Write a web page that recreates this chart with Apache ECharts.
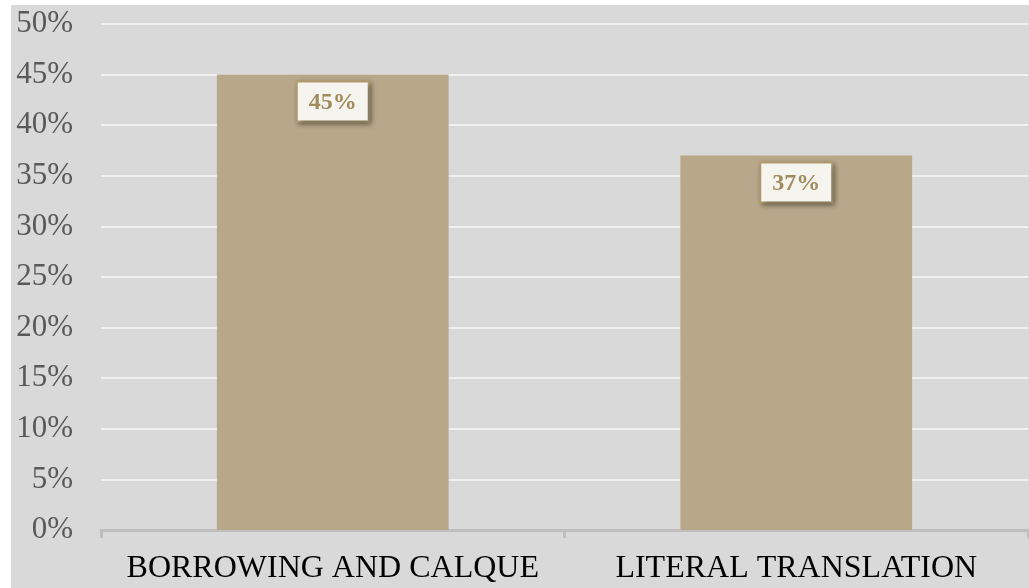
<!DOCTYPE html>
<html>
<head>
<meta charset="utf-8">
<script src="https://cdn.jsdelivr.net/npm/echarts@6/dist/echarts.min.js"></script>
<style>
  html, body { margin: 0; padding: 0; background: #ffffff; width: 1029px; height: 588px; overflow: hidden; }
  #chart { position: absolute; left: 11px; top: 5px; width: 1018px; height: 583px; }
</style>
</head>
<body>
<div id="chart"></div>
<script>
// Share of translation techniques
const categories = ['BORROWING AND CALQUE', 'LITERAL TRANSLATION'];
const shares = [45, 37];
const yMin = 0, yMax = 50, yStep = 5;

const serif = '"Liberation Serif", "DejaVu Serif", serif';
const chart = echarts.init(document.getElementById('chart'), null, { renderer: 'canvas' });

chart.setOption({
  backgroundColor: '#D9D9D9',
  animation: false,
  grid: { left: 90, right: 1, top: 19, bottom: 58 },
  xAxis: {
    type: 'category',
    data: categories,
    axisLine: { lineStyle: { color: '#BFBFBF', width: 3 } },
    axisTick: { show: true, length: 8, lineStyle: { color: '#BFBFBF', width: 3 } },
    axisLabel: { color: '#000000', fontFamily: serif, fontSize: 32, margin: 23, interval: 0 }
  },
  yAxis: {
    type: 'value',
    min: yMin, max: yMax, interval: yStep,
    axisLine: { show: false },
    axisTick: { show: false },
    splitLine: { lineStyle: { color: '#F0F0F0', width: 2 } },
    axisLabel: { color: '#595959', fontFamily: serif, fontSize: 31, margin: 28, formatter: '{value}%' }
  },
  series: [{
    type: 'bar',
    data: shares,
    barWidth: '50%',
    itemStyle: { color: '#B8A788' },
    label: {
      show: true,
      position: 'insideTop',
      distance: 8,
      formatter: '{c}%',
      fontFamily: serif,
      fontSize: 24,
      fontWeight: 'bold',
      color: '#A08B5E',
      backgroundColor: '#F6F4EF',
      borderColor: '#B39E70',
      borderWidth: 2,
      padding: [8, 11, 6, 11],
      shadowColor: 'rgba(0,0,0,0.35)',
      shadowBlur: 5,
      shadowOffsetX: 2,
      shadowOffsetY: 2
    }
  }]
});
</script>
</body>
</html>
